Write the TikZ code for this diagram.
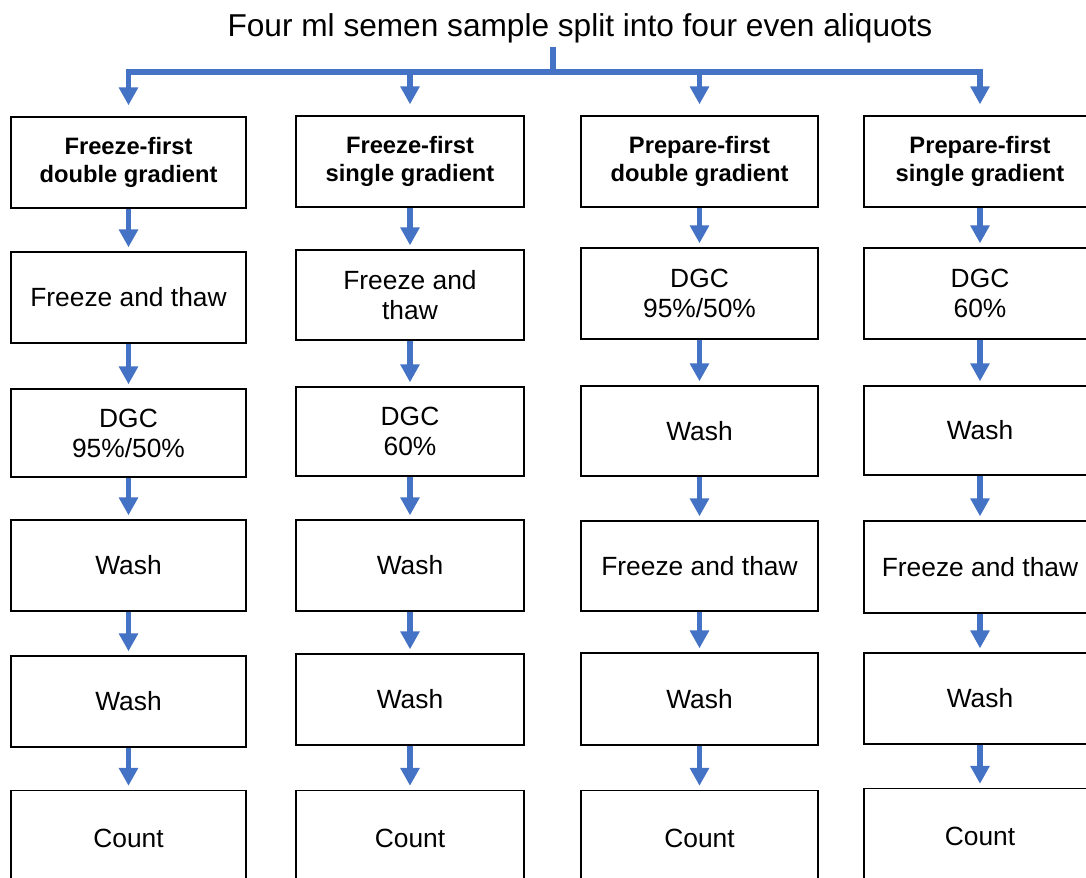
\documentclass[tikz,border=0pt]{standalone}
\usepackage{fontspec}
\setmainfont{Liberation Sans}
\usetikzlibrary{arrows.meta}

\definecolor{flowblue}{RGB}{68,114,196}

\tikzset{
    stepbox/.style={draw=black, line width=0.8pt, align=center, inner sep=2pt,
        font=\fontsize{15}{17}\selectfont},
    headbox/.style={stepbox, font=\fontsize{13.5}{16}\selectfont\bfseries},
    flow/.style={draw=flowblue, line width=3.2pt},
    flowarrow/.style={flow, -{Triangle[width=0.37cm,length=0.36cm]}, shorten >=0.08cm}
}

\begin{document}
\begin{tikzpicture}[x=0.02cm,y=-0.02cm]
    \clip (0,0) rectangle (1086,877);

    % title and split into the four aliquots
    \node (title) at (580,28) {\fontsize{18}{21}\selectfont Four ml semen sample split into four even aliquots};
    \coordinate (root) at (553,47);
    \coordinate (bar) at (553,72);

    % freeze-first double gradient
    \node[headbox, minimum width=4.7cm, minimum height=1.82cm] (fd1) at (128.5,162.5) {Freeze-first\\double gradient};
    \node[stepbox, minimum width=4.7cm, minimum height=1.82cm] (fd2) at (128.5,297.5) {Freeze and thaw};
    \node[stepbox, minimum width=4.7cm, minimum height=1.76cm] (fd3) at (128.5,433) {DGC\\95\%/50\%};
    \node[stepbox, minimum width=4.7cm, minimum height=1.82cm] (fd4) at (128.5,565.5) {Wash};
    \node[stepbox, minimum width=4.7cm, minimum height=1.82cm] (fd5) at (128.5,701.5) {Wash};
    \node[stepbox, minimum width=4.7cm, minimum height=1.9cm] (fd6) at (128.5,838) {Count};

    % freeze-first single gradient
    \node[headbox, minimum width=4.56cm, minimum height=1.82cm] (fs1) at (410,161.5) {Freeze-first\\single gradient};
    \node[stepbox, minimum width=4.56cm, minimum height=1.8cm] (fs2) at (410,295) {Freeze and\\thaw};
    \node[stepbox, minimum width=4.56cm, minimum height=1.78cm] (fs3) at (410,431.5) {DGC\\60\%};
    \node[stepbox, minimum width=4.56cm, minimum height=1.82cm] (fs4) at (410,565.5) {Wash};
    \node[stepbox, minimum width=4.56cm, minimum height=1.82cm] (fs5) at (410,699.5) {Wash};
    \node[stepbox, minimum width=4.56cm, minimum height=1.9cm] (fs6) at (410,838) {Count};

    % prepare-first double gradient
    \node[headbox, minimum width=4.74cm, minimum height=1.82cm] (pd1) at (699.5,161.5) {Prepare-first\\double gradient};
    \node[stepbox, minimum width=4.74cm, minimum height=1.82cm] (pd2) at (699.5,293.5) {DGC\\95\%/50\%};
    \node[stepbox, minimum width=4.74cm, minimum height=1.8cm] (pd3) at (699.5,431) {Wash};
    \node[stepbox, minimum width=4.74cm, minimum height=1.8cm] (pd4) at (699.5,566) {Freeze and thaw};
    \node[stepbox, minimum width=4.74cm, minimum height=1.84cm] (pd5) at (699.5,699) {Wash};
    \node[stepbox, minimum width=4.74cm, minimum height=1.9cm] (pd6) at (699.5,838) {Count};

    % prepare-first single gradient
    \node[headbox, minimum width=4.64cm, minimum height=1.82cm] (ps1) at (980,161.5) {Prepare-first\\single gradient};
    \node[stepbox, minimum width=4.64cm, minimum height=1.82cm] (ps2) at (980,293.5) {DGC\\60\%};
    \node[stepbox, minimum width=4.64cm, minimum height=1.78cm] (ps3) at (980,430.5) {Wash};
    \node[stepbox, minimum width=4.64cm, minimum height=1.84cm] (ps4) at (980,567) {Freeze and thaw};
    \node[stepbox, minimum width=4.64cm, minimum height=1.82cm] (ps5) at (980,698.5) {Wash};
    \node[stepbox, minimum width=4.64cm, minimum height=1.9cm] (ps6) at (980,836) {Count};

    % connectors
    \draw[flow] (root) -- (bar);
    \foreach \col in {fd,fs,pd,ps}{
        \draw[flowarrow, shorten >=0.22cm] (bar) -| (\col1.north);
        \foreach \a/\b in {1/2,2/3,3/4,4/5,5/6}
            \draw[flowarrow] (\col\a.south) -- (\col\b.north);
    }
\end{tikzpicture}
\end{document}
